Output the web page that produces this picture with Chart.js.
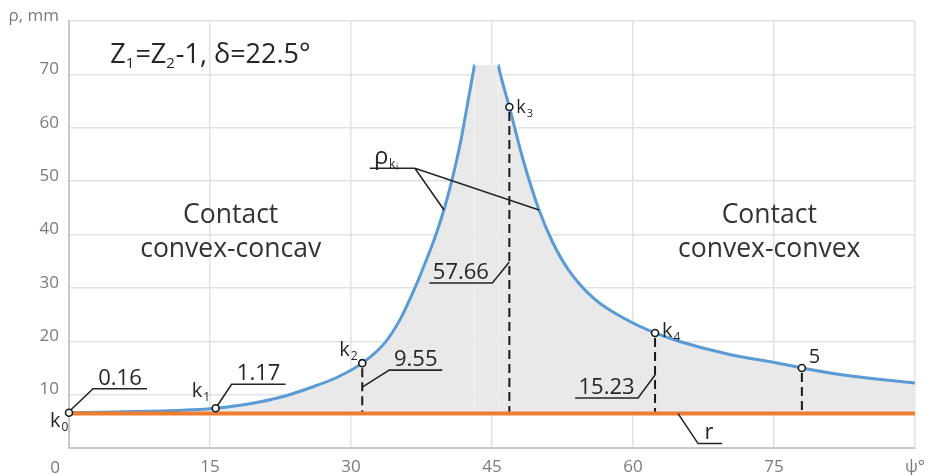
<!DOCTYPE html>
<html>
<head>
<meta charset="utf-8">
<script src="https://cdn.jsdelivr.net/npm/chart.js@4.4.0/dist/chart.umd.min.js"></script>
<style>
  html, body { margin: 0; padding: 0; background: #fff; }
  #wrap { width: 934px; height: 475px; }
</style>
</head>
<body>
<div id="wrap"><canvas id="rhoChart"></canvas></div>
<script>
// curve rho(psi), both branches of the peak
const psiLeft  = [0, 5, 10, 13.8, 15.6, 19.1, 22.6, 26.2, 28.6, 31.2, 33.6, 35.2, 36.8, 38.1, 39.1, 40.0, 40.8, 41.7, 42.4, 43.05, 43.15];
const rhoLeft  = [6.6, 6.75, 6.95, 7.2, 7.45, 8.24, 9.55, 11.62, 13.3, 15.9, 19.7, 24.0, 30.0, 35.6, 40.3, 45.3, 50.6, 57.7, 64.5, 70.8, 71.76];
const psiRight = [45.68, 45.79, 46.85, 48.32, 50.01, 51.49, 53.17, 56.02, 59.19, 62.35, 64.78, 70.06, 75.33, 77.97, 82.41, 90];
const rhoRight = [71.76, 70.8, 63.89, 53.96, 44.59, 38.41, 33.3, 27.73, 24.17, 21.55, 20.05, 17.61, 15.93, 14.99, 13.68, 12.18];

// radius r (flat line)
const rValue = 6.45;

// marked points k0..k4 and 5
const markPsi   = [0, 15.6, 31.2, 46.85, 62.35, 77.97];
const markRho   = [6.6, 7.45, 15.9, 63.89, 21.55, 14.99];
const markNames = ['k0', 'k1', 'k2', 'k3', 'k4', '5'];
const markDelta = ['0.16', '1.17', '9.55', '57.66', '15.23', ''];

// tick labels
const xTickValues = [0, 15, 30, 45, 60, 75, 90];
const xTickLabels = ['', '15', '30', '45', '60', '75', 'ψ°'];
const yTickValues = [0, 10, 20, 30, 40, 50, 60, 70, 80];
const yTickLabels = ['', '10', '20', '30', '40', '50', '60', '70', 'ρ, mm'];

const FONT = '"Open Sans", "DejaVu Sans", sans-serif';
const BLUE = '#5b9bd5';
const ORANGE = '#ed7d31';
const INK = '#262626';

const curvePts = psiLeft.map((p, i) => ({x: p, y: rhoLeft[i]}))
  .concat(psiRight.map((p, i) => ({x: p, y: rhoRight[i]})));
const gapIndex = psiLeft.length - 1;

// leader offsets (px) from each mark point; last leg is the shelf the number sits on
const leaders = [
  [[2, -3], [24, -24], [78, -24]],
  [[2, -3], [16, -24], [70, -24]],
  [[0, 24], [27, 7], [80, 7]],
  [[0, 155], [-17, 176], [-80, 176]],
  [[0, 42], [-17, 65], [-80, 65]],
  null
];
// label offsets (px) for k names
const nameOffsets = [[-19, 14], [-24, -11], [-23, -7], [7, 6], [7, 4], [7, -5]];

function font(size) { return size + 'px ' + FONT; }

function drawSub(ctx, main, sub, x, y, size) {
  ctx.font = font(size);
  ctx.fillText(main, x, y);
  const w = ctx.measureText(main).width;
  if (sub) {
    ctx.font = font(Math.round(size * 0.6));
    ctx.fillText(sub, x + w + 1, y + size * 0.2);
  }
}

const annotate = {
  id: 'annotate',
  afterDatasetDraw(chart, args) {
    if (args.index !== 0) return;
    const {ctx} = chart;
    const x = chart.scales.x, y = chart.scales.y;
    ctx.save();
    ctx.strokeStyle = '#1a1a1a';
    ctx.lineWidth = 2;
    ctx.setLineDash([9, 5]);
    [2, 3, 4, 5].forEach(i => {
      const px = x.getPixelForValue(markPsi[i]);
      ctx.beginPath();
      ctx.moveTo(px, y.getPixelForValue(markRho[i]) + 5);
      ctx.lineTo(px, y.getPixelForValue(rValue));
      ctx.stroke();
    });
    ctx.restore();
  },
  afterDatasetsDraw(chart) {
    const {ctx} = chart;
    const x = chart.scales.x, y = chart.scales.y;
    ctx.save();
    ctx.strokeStyle = INK;
    ctx.fillStyle = INK;
    ctx.lineWidth = 1.6;
    ctx.textBaseline = 'alphabetic';

    // number leaders
    markPsi.forEach((p, i) => {
      const px = x.getPixelForValue(p), py = y.getPixelForValue(markRho[i]);
      const path = leaders[i];
      if (path) {
        ctx.beginPath();
        path.forEach((o, j) => j ? ctx.lineTo(px + o[0], py + o[1]) : ctx.moveTo(px + o[0], py + o[1]));
        ctx.stroke();
        const a = path[1], b = path[2];
        ctx.font = font(22);
        ctx.textAlign = 'center';
        ctx.fillText(markDelta[i], px + (a[0] + b[0]) / 2, py + b[1] - 4);
      }
      // point names
      ctx.textAlign = 'left';
      const off = nameOffsets[i];
      const nm = markNames[i];
      if (nm[0] === 'k') drawSub(ctx, 'k', nm.slice(1), px + off[0], py + off[1], i === 3 ? 18 : 20);
      else drawSub(ctx, nm, '', px + off[0], py + off[1], 20);
    });

    // r leader
    const rx = x.getPixelForValue(64.8), ry = y.getPixelForValue(rValue);
    ctx.beginPath();
    ctx.moveTo(rx, ry); ctx.lineTo(rx + 20, ry + 30); ctx.lineTo(rx + 44, ry + 30);
    ctx.stroke();
    ctx.font = font(22);
    ctx.textAlign = 'center';
    ctx.fillText('r', rx + 31, ry + 25);

    // rho_ki leader to both branches
    const jx = x.getPixelForValue(36.8), jy = y.getPixelForValue(52.4);
    ctx.beginPath();
    ctx.moveTo(jx - 45, jy); ctx.lineTo(jx, jy);
    ctx.lineTo(x.getPixelForValue(39.9), y.getPixelForValue(44.6));
    ctx.moveTo(jx, jy);
    ctx.lineTo(x.getPixelForValue(50.01), y.getPixelForValue(44.6));
    ctx.stroke();
    ctx.textAlign = 'left';
    ctx.font = font(24);
    ctx.fillText('ρ', jx - 41, jy - 4);
    ctx.font = font(12);
    ctx.fillText('k', jx - 26, jy);
    ctx.font = font(9);
    ctx.fillText('i', jx - 19, jy + 2);

    // title with subscripts
    let tx = x.getPixelForValue(4.4);
    const ty = y.getPixelForValue(72.1);
    [['Z', 0], ['1', 1], ['=Z', 0], ['2', 1], ['-1, δ=22.5°', 0]].forEach(([s, sub]) => {
      ctx.font = font(sub ? 15 : 27);
      ctx.fillText(s, tx, ty + (sub ? 5 : 0));
      tx += ctx.measureText(s).width + (sub ? 1 : 0);
    });

    // region captions
    ctx.fillStyle = '#333';
    ctx.font = font(26.5);
    ctx.textAlign = 'center';
    const capL = x.getPixelForValue(17.2), capR = x.getPixelForValue(74.5);
    const c1 = y.getPixelForValue(42.1), c2 = y.getPixelForValue(35.8);
    ctx.fillText('Contact', capL, c1);
    ctx.fillText('convex-concav', capL, c2);
    ctx.fillText('Contact', capR, c1);
    ctx.fillText('convex-convex', capR, c2);

    // the origin tick label sits left of the corner
    ctx.fillStyle = '#7a7a7a';
    ctx.font = font(17);
    ctx.textAlign = 'center';
    ctx.textBaseline = 'middle';
    ctx.fillText('0', x.left - 14, y.bottom + 20);
    ctx.restore();
  }
};

new Chart(document.getElementById('rhoChart'), {
  type: 'line',
  data: {
    datasets: [
      {
        data: curvePts,
        borderColor: BLUE,
        borderWidth: 3,
        backgroundColor: '#e9e9e9',
        fill: {value: rValue},
        pointRadius: 0,
        cubicInterpolationMode: 'monotone',
        order: 3,
        segment: {
          borderColor: c => c.p0DataIndex === gapIndex ? 'rgba(0,0,0,0)' : BLUE
        }
      },
      {
        data: [{x: 0, y: rValue}, {x: 90, y: rValue}],
        borderColor: ORANGE,
        borderWidth: 4,
        pointRadius: 0,
        fill: false,
        order: 2
      },
      {
        data: markPsi.map((p, i) => ({x: p, y: markRho[i]})),
        showLine: false,
        pointRadius: 3.5,
        pointBorderWidth: 1.6,
        pointBackgroundColor: '#fff',
        pointBorderColor: '#1a1a1a',
        clip: false,
        order: 1
      }
    ]
  },
  options: {
    responsive: true,
    maintainAspectRatio: false,
    animation: false,
    layout: {padding: {top: 21, right: 12, left: 0, bottom: 0}},
    plugins: {legend: {display: false}, tooltip: {enabled: false}},
    scales: {
      x: {
        type: 'linear',
        min: 0, max: 90,
        afterFit(s) { s.height = 27; },
        afterBuildTicks(s) { s.ticks = xTickValues.map(v => ({value: v})); },
        ticks: {
          callback: v => xTickLabels[xTickValues.indexOf(v)],
          color: '#7a7a7a',
          font: {family: FONT, size: 17},
          padding: 9,
          maxRotation: 0
        },
        grid: {color: '#e2e2e2', lineWidth: 1.5, drawTicks: false},
        border: {color: '#c8c8c8', width: 2}
      },
      y: {
        min: 0, max: 80,
        afterFit(s) { s.width = 69; },
        afterBuildTicks(s) { s.ticks = yTickValues.map(v => ({value: v})); },
        ticks: {
          callback: v => yTickLabels[yTickValues.indexOf(v)],
          color: '#7a7a7a',
          font: {family: FONT, size: 17},
          padding: 10,
          labelOffset: -5
        },
        grid: {color: '#e2e2e2', lineWidth: 1.5, drawTicks: false},
        border: {color: '#c8c8c8', width: 2}
      }
    }
  },
  plugins: [annotate]
});
</script>
</body>
</html>
